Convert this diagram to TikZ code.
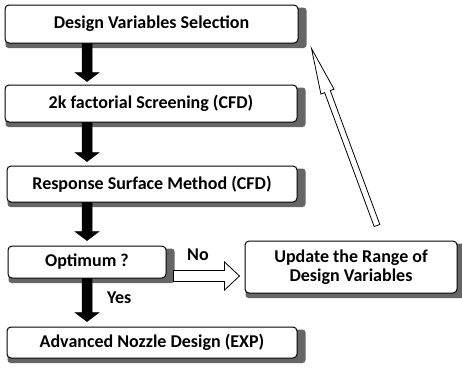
\documentclass[tikz,border=0pt]{standalone}
\usepackage{fontspec}
\setmainfont{Carlito}
\usetikzlibrary{calc,backgrounds}
\newcommand{\blockarrow}[6]{%
  \draw[#1] ($(#2)!#4!90:(#3)$) -- ($(#3)!#6!(#2)!#4!-90:(#2)$)
    -- ($(#3)!#6!(#2)!#5!-90:(#2)$) -- (#3)
    -- ($(#3)!#6!(#2)!#5!90:(#2)$) -- ($(#3)!#6!(#2)!#4!90:(#2)$)
    -- ($(#2)!#4!-90:(#3)$) -- cycle;}
\begin{document}
\begin{tikzpicture}[x=1pt,y=-1pt,
  box/.style={draw=black, line width=1pt, rounded corners=4pt, fill=white,
    font=\bfseries\fontsize{18}{19.5}\selectfont, align=center, inner sep=0pt},
  lbl/.style={font=\bfseries\fontsize{18}{20}\selectfont, inner sep=0pt},
  fat/.style={fill=black, draw=black, line width=0.5pt, line join=miter},
  hollow/.style={fill=white, draw=black, line width=0.8pt, line join=miter},
  shadowc/.style={fill=black!60}]
\useasboundingbox (0,0) rectangle (462,368);
\node[box, minimum width=293pt, minimum height=38pt] (b1) at (151.5,24) {Design Variables Selection};
\node[box, minimum width=292pt, minimum height=37pt] (b2) at (151,103.5) {2k factorial Screening (CFD)};
\node[box, minimum width=290pt, minimum height=36pt] (b3) at (152,184) {Response Surface Method (CFD)};
\node[box, minimum width=158pt, minimum height=32pt] (b4) at (87,262) {Optimum ?};
\node[box, minimum width=290pt, minimum height=31pt] (b5) at (152,342.5) {Advanced Nozzle Design (EXP)};
\node[box, minimum width=212pt, minimum height=52pt] (upd) at (351,267) {Update the Range of\\Design Variables};
\begin{scope}[on background layer]
  \foreach \n in {b1,b2,b3,b4,b5,upd}
    \fill[shadowc, rounded corners=3pt] ($(\n.north west)+(1,3)$) rectangle ($(\n.south east)+(8,4.5)$);
\end{scope}
% vertical fat arrows
\coordinate (a1s) at (b1.south -| b4.north);
\coordinate (a1e) at ($(b2.north -| b4.north)+(0,-3)$);
\coordinate (a2s) at (b2.south -| b4.north);
\coordinate (a2e) at ($(b3.north -| b4.north)+(0,-4)$);
\coordinate (a3s) at (b3.south -| b4.north);
\coordinate (a3e) at ($(b4.north)+(0,-5)$);
\coordinate (a4s) at (b4.south);
\coordinate (a4e) at ($(b5.north -| b4.south)+(0,-5)$);
\blockarrow{fat}{a1s}{a1e}{5pt}{12pt}{9pt}
\blockarrow{fat}{a2s}{a2e}{5pt}{12pt}{9pt}
\blockarrow{fat}{a3s}{a3e}{5pt}{12pt}{9pt}
\blockarrow{fat}{a4s}{a4e}{5pt}{12pt}{9pt}
\node[lbl, anchor=west] (yes) at ($(b4.south)+(20,19)$) {Yes};
% No arrow
\coordinate (ns) at ($(b4.east)+(7,14)$);
\coordinate (ne) at ($(upd.west |- ns)+(-5,0)$);
\blockarrow{hollow}{ns}{ne}{5.5pt}{14pt}{15pt}
\node[lbl] (no) at (198,255) {No};
% long hollow arrow back to top
\coordinate (us) at ($(upd.north)+(26,-15)$);
\coordinate (ue) at ($(b1.south east)+(13,5)$);
\blockarrow{hollow}{us}{ue}{3pt}{7pt}{46pt}
\end{tikzpicture}
\end{document}
